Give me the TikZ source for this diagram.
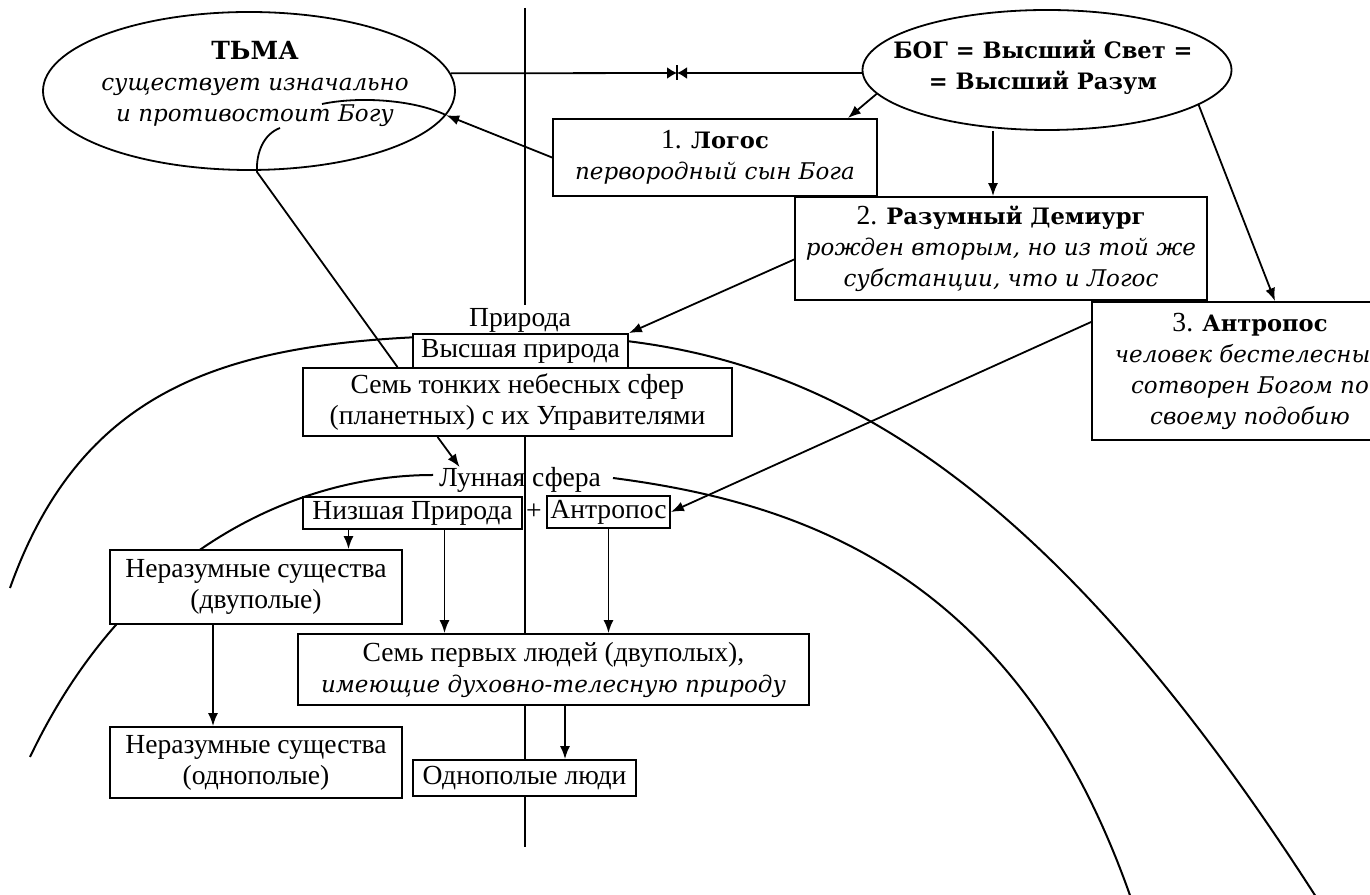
\documentclass[tikz,border=0pt]{standalone}
\usepackage{fontspec}
\setmainfont{Liberation Serif}
\newfontfamily\shkola{DejaVu Serif}
\usetikzlibrary{arrows.meta,shapes.geometric}
\newcommand{\tekst}{\fontsize{13.8}{15.5}\selectfont}
\newcommand{\zhirn}[1]{{\shkola\bfseries\fontsize{11.3}{15.5}\selectfont #1}}
\newcommand{\kursiv}[1]{{\shkola\itshape\fontsize{11.5}{15.5}\selectfont #1}}
\tikzset{blok/.style={draw,fill=white,line width=0.9pt,inner sep=0pt,align=center,font=\tekst},
  oval/.style={draw,ellipse,line width=0.9pt,inner sep=0pt},
  strelka/.style={line width=0.9pt,-{Latex[length=6.5pt,width=5pt]}},
  vstrecha/.style={line width=0.9pt,-{Latex[length=5pt,width=6pt]}},
  liniya/.style={line width=0.9pt},
  duga/.style={line width=1pt}}

\begin{document}
\begin{tikzpicture}[x=0.5pt,y=0.5pt]
\useasboundingbox (0,0) rectangle (1370,894);
\clip (0,0) rectangle (1370,894);
\draw[liniya] (525,886) -- (525,47);
\draw[duga] (10,306) .. controls (90,530) and (260,559) .. (520,559) .. controls (770,559) and (1017,476) .. (1337,-36);
\draw[duga] (30,137) .. controls (130,347) and (300,419) .. (433,419);
\draw[duga] (613,416) .. controls (813,390) and (1029,313) .. (1139,-28);

\node[oval,minimum width=206pt,minimum height=79pt] (tma) at (249,803) {};
\node[align=center,font=\tekst] (tmatekst) at (255,810) {\zhirn{\fontsize{12.5}{15.5}\selectfont ТЬМА}\\\kursiv{существует изначально}\\\kursiv{и противостоит Богу}};
\node[oval,minimum width=184.5pt,minimum height=60pt] (bog) at (1047,824) {};
\node[align=center,font=\tekst] (bogtekst) at (1043,827) {\zhirn{БОГ = Высший Свет =}\\\zhirn{= Высший Разум}};
\node[blok,minimum width=162pt,minimum height=38.5pt] (logos) at (715,736.5) {1. \zhirn{Логос}\\\kursiv{первородный сын Бога}};
\node[blok,minimum width=206pt,minimum height=51.5pt] (dem) at (1001,645.5) {2. \zhirn{Разумный Демиург}\\\kursiv{рожден вторым, но из той же}\\\kursiv{субстанции, что и Логос}};
\node[blok,minimum width=158pt,minimum height=69pt] (anth) at (1250,523) {3. \zhirn{Антропос}\\\kursiv{человек бестелесный}\\\kursiv{сотворен Богом по}\\\kursiv{своему подобию}};
\node[fill=white,inner sep=1.5pt,font=\tekst] (priroda) at (520,574) {Природа};
\node[blok,minimum width=107.5pt,minimum height=17pt] (vys) at (520.5,543) {Высшая природа};
\node[blok,minimum width=214.5pt,minimum height=34pt] (sem) at (517.5,492) {Семь тонких небесных сфер\\(планетных) с их Управителями};
\node[inner sep=0pt,font=\tekst] (luna) at (520,414) {Лунная сфера};
\node[blok,minimum width=109.5pt,minimum height=16pt] (niz) at (412.5,381) {Низшая Природа};
\node[inner sep=0pt,font=\tekst] (plyus) at (534,382) {+};
\node[blok,minimum width=61.5pt,minimum height=16pt] (anth2) at (608.5,382) {Антропос};
\node[blok,minimum width=146pt,minimum height=37pt] (ner1) at (256,307) {Неразумные существа\\(двуполые)};
\node[blok,minimum width=146pt,minimum height=35.5pt] (ner2) at (256,131.5) {Неразумные существа\\(однополые)};
\node[blok,minimum width=255.5pt,minimum height=35.5pt] (lyudi) at (553.5,224.5) {Семь первых людей (двуполых),\\\kursiv{имеющие духовно-телесную природу}};
\node[blok,minimum width=111.5pt,minimum height=18pt] (odno) at (524.5,116) {Однополые люди};

\coordinate (mid) at (677,821);
\draw[vstrecha] (tma.5) -- (mid);
\draw[vstrecha] (bog.west |- mid) -- (mid);
\draw[liniya] ([yshift=3.75pt]mid) -- ([yshift=-3.75pt]mid);
\coordinate (demvh) at ([xshift=-4pt]dem.north);
\draw[strelka] (bog.188) -- ([xshift=-15pt]logos.north east);
\draw[strelka] (demvh |- bog.south) -- (demvh);
\draw[strelka] (bog.-13) -- ([xshift=12.5pt]anth.north);
\draw[strelka] (logos.west) -- (tma.-7);
\draw[liniya] ([xshift=-60pt]sem.north) -- (257,722) .. controls (256,742) and (264,760) .. (280,766);
\draw[liniya] (322,790) .. controls (360,798) and (415,794) .. (tma.-7);
\draw[strelka] ([yshift=-5.5pt]dem.west) -- (vys.north east);
\draw[strelka] ([yshift=24.5pt]anth.west) -- (anth2.east);
\draw[strelka] ([xshift=-40pt]sem.south) -- ([xshift=10.5pt]luna.north west);
\coordinate (n1) at ([xshift=-32pt]niz.south);
\coordinate (n2) at ([xshift=16pt]niz.south);
\coordinate (n3) at ([xshift=-21.5pt]ner1.south);
\coordinate (n4) at ([xshift=5.75pt]lyudi.south);
\draw[strelka] (n1) -- (n1 |- ner1.north);
\draw[strelka] (n2) -- (n2 |- lyudi.north);
\draw[strelka] (anth2.south) -- (anth2.south |- lyudi.north);
\draw[strelka] (n3) -- (n3 |- ner2.north);
\draw[strelka] (n4) -- (n4 |- odno.north);
\end{tikzpicture}
\end{document}
